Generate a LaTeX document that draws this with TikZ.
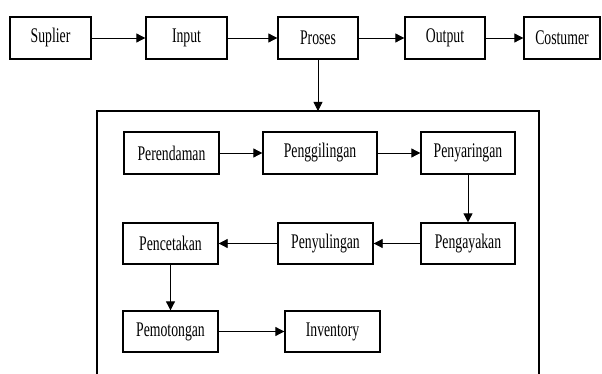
\documentclass[tikz,border=0pt]{standalone}
\usepackage{fontspec}
\setmainfont{Liberation Serif}
\newfontfamily\narrowf[FakeStretch=0.66]{Liberation Serif}
\usetikzlibrary{arrows.meta}
\tikzset{
  box/.style={draw, line width=1.3pt, minimum height=42pt, inner sep=0pt,
    font=\narrowf\fontsize{20.8}{22}\selectfont},
  arr/.style={line width=0.8pt, -{Triangle[length=9pt,width=9pt]}},
  frame/.style={line width=1.3pt}
}
\begin{document}
\begin{tikzpicture}[x=1pt,y=-1pt]
\useasboundingbox (0,0) rectangle (602,374);
% top row
\node[box, minimum width=81pt] (sup) at (50.5,38) {Suplier};
\node[box, minimum width=81pt] (inp) at (186.5,38) {Input};
\node[box, minimum width=80pt] (pro) at (318,38) {Proses};
\node[box, minimum width=80pt] (out) at (445,38) {Output};
\node[box, minimum width=76pt] (cos) at (562,38) {Costumer};
\draw[arr] (sup) -- (inp);
\draw[arr] (inp) -- (pro);
\draw[arr] (pro) -- (out);
\draw[arr] (out) -- (cos);
% big frame
\coordinate (fbl) at (97,376);
\coordinate (ftl) at (97,111);
\coordinate (ftr) at (539,111);
\coordinate (fbr) at (539,376);
\coordinate (ftop) at (318,111);
\draw[frame] (fbl) -- (ftl) -- (ftr) -- (fbr);
\draw[arr] (pro) -- (ftop);
% inner boxes
\node[box, minimum width=95pt] (per) at (171.5,153) {Perendaman};
\node[box, minimum width=114pt] (pgg) at (320,153) {Penggilingan};
\node[box, minimum width=94pt] (pyr) at (468,153) {Penyaringan};
\node[box, minimum width=94pt, minimum height=41pt] (pgy) at (468,243.5) {Pengayakan};
\node[box, minimum width=95pt, minimum height=41pt] (pyl) at (325.5,243.5) {Penyulingan};
\node[box, minimum width=95pt, minimum height=41pt] (pce) at (170.5,243.5) {Pencetakan};
\node[box, minimum width=95pt, minimum height=41pt] (pmo) at (170.5,331.5) {Pemotongan};
\node[box, minimum width=95pt, minimum height=41pt] (inv) at (332.5,331.5) {Inventory};
\draw[arr] (per) -- (pgg);
\draw[arr] (pgg) -- (pyr);
\draw[arr] (pyr) -- (pgy);
\draw[arr] (pgy) -- (pyl);
\draw[arr] (pyl) -- (pce);
\draw[arr] (pce) -- (pmo);
\draw[arr] (pmo) -- (inv);
\end{tikzpicture}
\end{document}
